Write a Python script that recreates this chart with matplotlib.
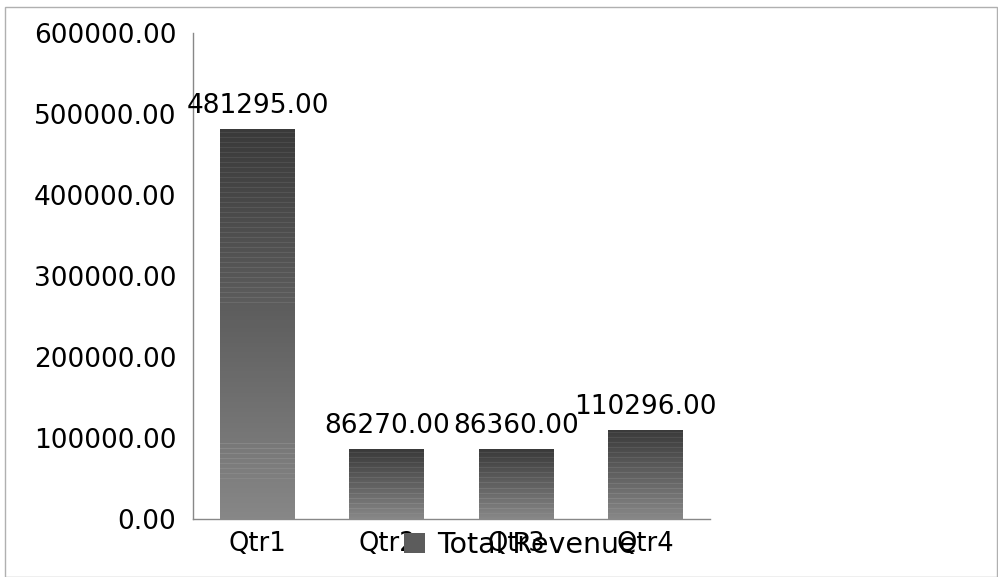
import matplotlib
matplotlib.use("Agg")
import matplotlib.pyplot as plt
import numpy as np
from matplotlib.patches import Rectangle
from matplotlib.colors import LinearSegmentedColormap

categories = ["Qtr1", "Qtr2", "Qtr3", "Qtr4"]
values = [481295.00, 86270.00, 86360.00, 110296.00]
series_name = "Total Revenue"
yticks = [0, 100000, 200000, 300000, 400000, 500000, 600000]

plt.rcParams['font.family'] = ['DejaVu Sans']
fig = plt.figure(figsize=(9.98, 5.77), dpi=100)
ax = fig.add_axes([193/998, 1-519/577, 517/998, 486/577])

cmap = LinearSegmentedColormap.from_list("g", ["#878787", "#3a3a3a"])
x = np.arange(len(categories))
width = 0.58
bars = ax.bar(x, values, width=width, color="none", edgecolor="none", label=series_name)

# gradient with subtle light horizontal stripes
for b in bars:
    h = b.get_height()
    x0 = b.get_x()
    npx = max(int(h / 600000 * 486), 2)
    grad = np.linspace(0, 1, npx)
    img = grad.copy()
    rows = np.arange(npx)
    stripe = (rows % 5 == 0)
    if npx > 200:
        mask = stripe & ((grad > 0.55) | ((grad > 0.1) & (grad < 0.2)))
    else:
        mask = stripe
    img[mask] -= 0.18
    img = np.clip(img, 0, 1).reshape(-1, 1)
    im = ax.imshow(img, cmap=cmap, vmin=0, vmax=1, origin="lower", aspect="auto",
                   extent=[x0, x0 + b.get_width(), 0, h], interpolation="nearest", zorder=2)
    im.set_clip_path(b)

for xi, v in zip(x, values):
    ax.text(xi, v + 12000, f"{v:.2f}", ha="center", va="bottom", fontsize=19, color="black")

ax.set_xlim(-0.5, 3.5)
ax.set_ylim(0, 600000)
ax.set_yticks(yticks)
ax.set_yticklabels([f"{t:.2f}" for t in yticks], fontsize=19)
ax.set_xticks(x)
ax.set_xticklabels(categories, fontsize=18.5)
ax.tick_params(length=0)
ax.tick_params(axis="x", pad=9)
ax.tick_params(axis="y", pad=12)
for s in ["top", "right"]:
    ax.spines[s].set_visible(False)
for s in ["left", "bottom"]:
    ax.spines[s].set_color("#888888")
    ax.spines[s].set_linewidth(1.0)

handle = Rectangle((0, 0), 1, 1, facecolor="#5c5c5c")
ax.legend([handle], [series_name], loc="center", bbox_to_anchor=(520/998, 1-545/577),
          bbox_transform=fig.transFigure, frameon=False, fontsize=20.5,
          handlelength=0.74, handleheight=0.72, handletextpad=0.42, borderpad=0)

fig.patches.append(Rectangle((5/998, 0), 992/998, 1-7/577, transform=fig.transFigure,
                             fill=False, edgecolor="#b0b0b0", linewidth=1))
fig.savefig("out.png", dpi=100)
